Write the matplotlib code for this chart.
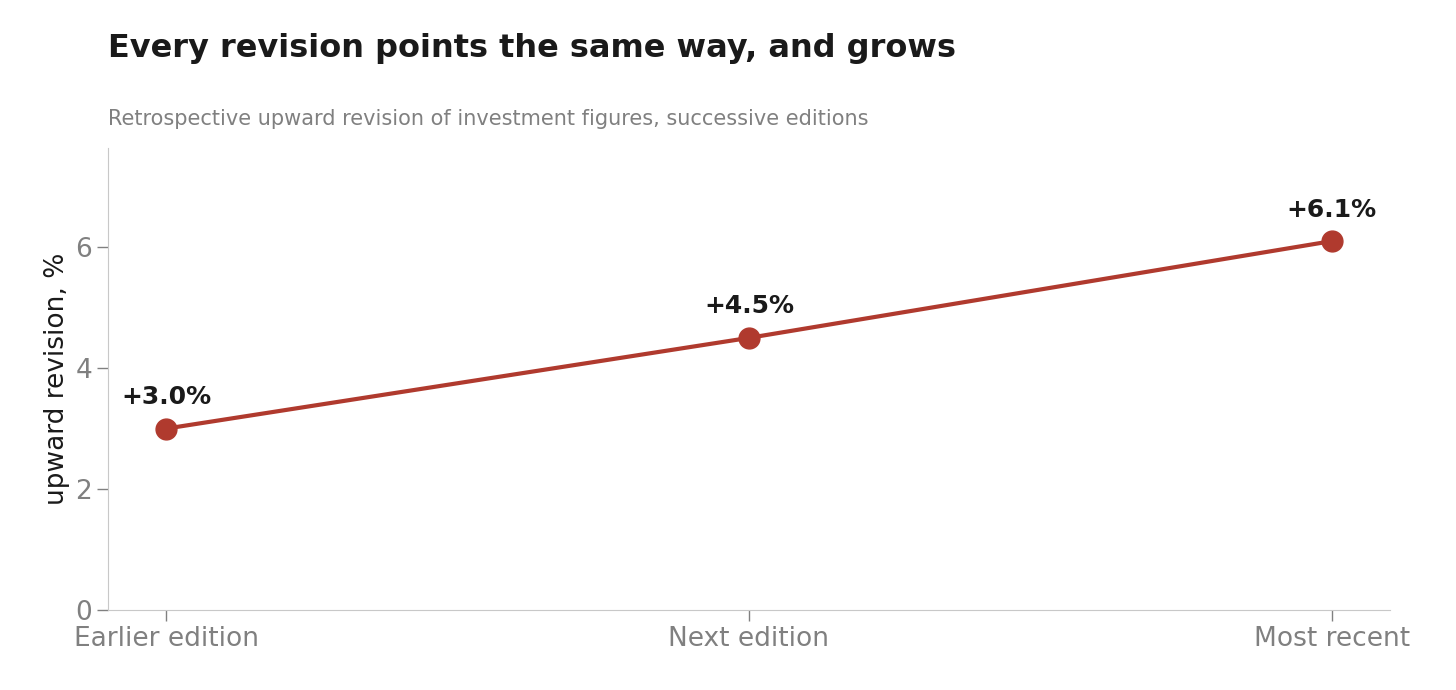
import matplotlib
matplotlib.use("Agg")
import matplotlib.pyplot as plt

editions = ["Earlier edition", "Next edition", "Most recent"]
revision = [3.0, 4.5, 6.1]
labels = ["+3.0%", "+4.5%", "+6.1%"]

red = "#b03a2e"
grey = "#808080"

fig = plt.figure(figsize=(14.56, 6.9), dpi=100)
ax = fig.add_axes([108/1456, 80/690, (1390-108)/1456, (610-148)/690])

x = range(len(editions))
ax.plot(x, revision, color=red, lw=3, marker="o", ms=15, zorder=3)
for xi, v, t in zip(x, revision, labels):
    ax.annotate(t, (xi, v), xytext=(0, 14), textcoords="offset points",
                ha="center", va="bottom", fontsize=18, fontweight="bold", color="#1a1a1a")

ax.set_xlim(-0.1, 2.1)
ax.set_ylim(0, 7.64)
ax.set_xticks(list(x))
ax.set_xticklabels(editions)
ax.set_yticks([0, 2, 4, 6])
ax.tick_params(colors=grey, labelsize=19, length=8, width=1)
ax.set_ylabel("upward revision, %", fontsize=19, color="#1a1a1a")
for s in ["top", "right"]:
    ax.spines[s].set_visible(False)
for s in ["left", "bottom"]:
    ax.spines[s].set_color("#c8c8c8")

fig.text(108/1456, 1 - 48/690, "Every revision points the same way, and grows",
         fontsize=23, fontweight="bold", color="#1a1a1a", va="center")
fig.text(108/1456, 1 - 119/690, "Retrospective upward revision of investment figures, successive editions",
         fontsize=15, color=grey, va="center")

fig.savefig("out.png", dpi=100)
